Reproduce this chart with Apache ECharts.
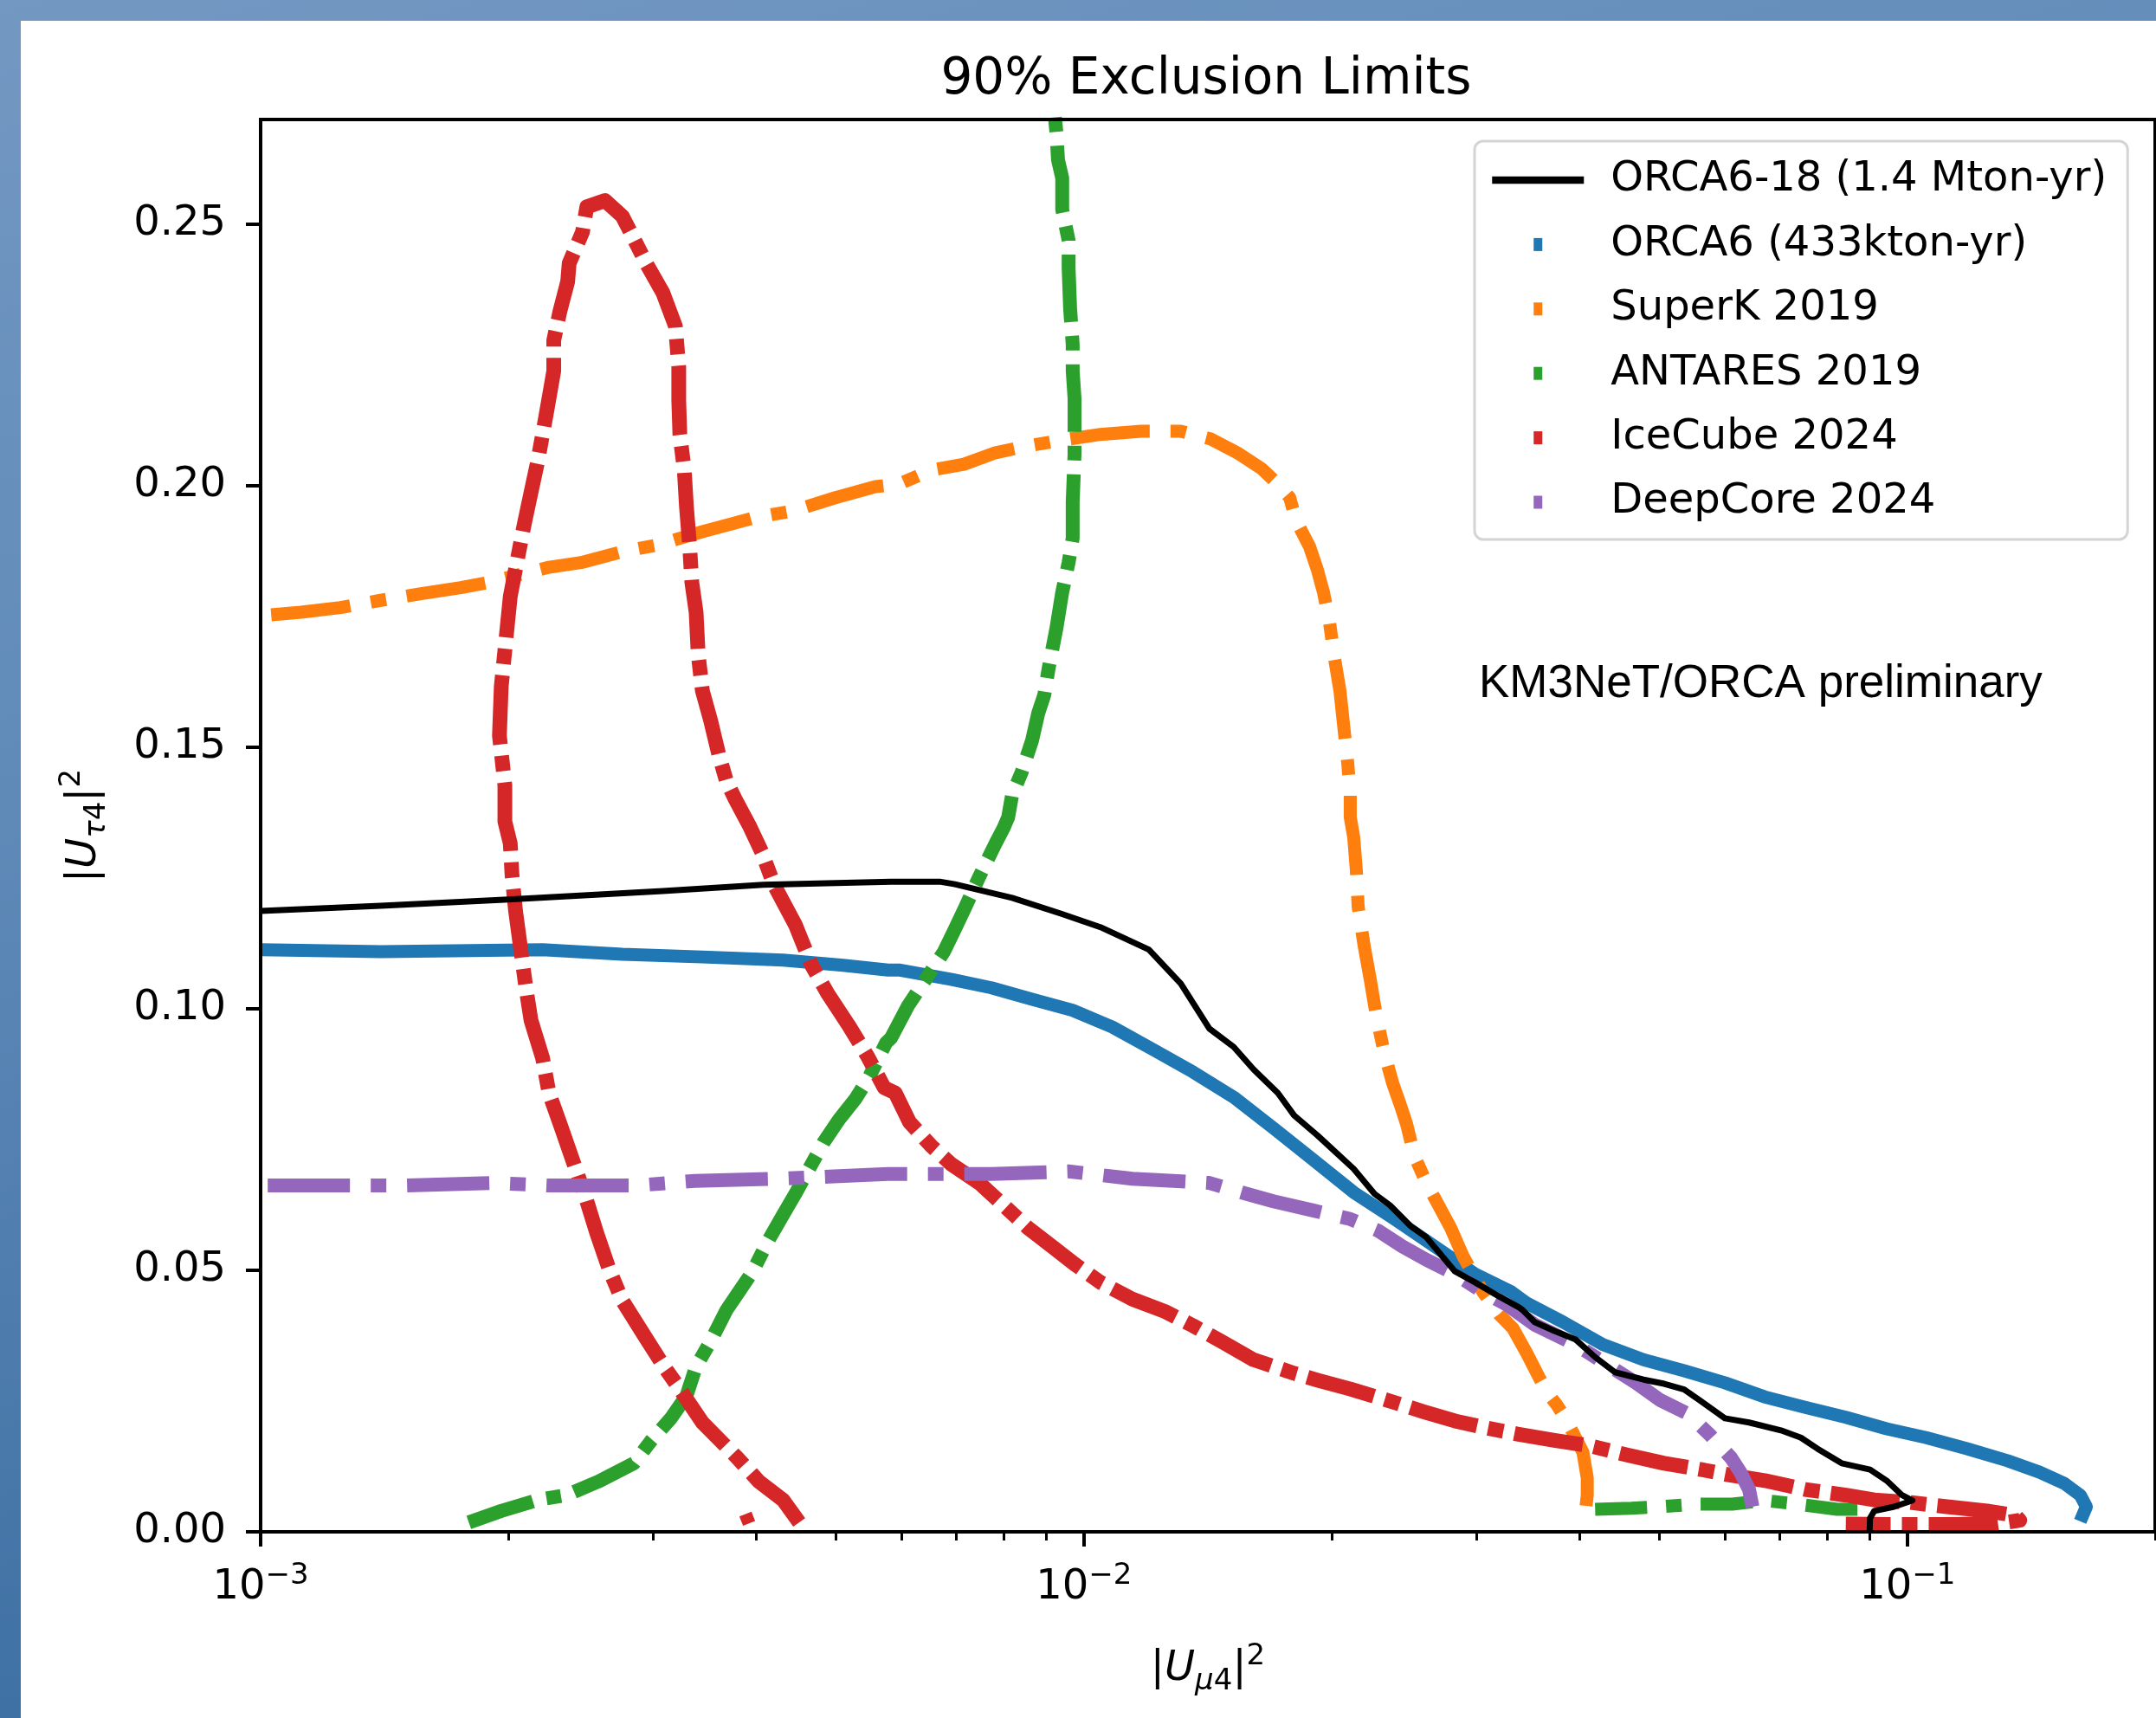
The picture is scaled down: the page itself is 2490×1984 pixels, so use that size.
<!DOCTYPE html>
<html>
<head>
<meta charset="utf-8">
<script src="https://cdn.jsdelivr.net/npm/echarts@6/dist/echarts.min.js"></script>
<style>
  html, body { margin: 0; padding: 0; }
  body {
    width: 2490px;
    height: 1984px;
    overflow: hidden;
    position: relative;
    background: linear-gradient(165deg, #7398c2 0%, #5f8ab8 35%, #2c6198 100%);
  }
  #chart {
    position: absolute;
    left: 24px;
    top: 24px;
    width: 2466px;
    height: 1960px;
    background: #fff;
  }
</style>
</head>
<body>
<div id="chart"></div>
<script>
// ---- data: [|U_mu4|^2, |U_tau4|^2] ----
const orca618 = [
  [0.001, 0.1187], [0.0014, 0.1197], [0.002, 0.1209], [0.00308, 0.1225], [0.00408, 0.1237],
  [0.00583, 0.1243], [0.00668, 0.1243], [0.00697, 0.1238], [0.00818, 0.1212], [0.00937, 0.1182],
  [0.01047, 0.1156], [0.01199, 0.1113], [0.01311, 0.1048], [0.0142, 0.0962], [0.0152, 0.0927],
  [0.01607, 0.0884], [0.0172, 0.0839], [0.018, 0.0796], [0.01921, 0.0758], [0.02126, 0.0694],
  [0.02254, 0.0646], [0.02354, 0.0624], [0.02495, 0.0584], [0.02606, 0.0563], [0.02822, 0.0498],
  [0.02985, 0.0477], [0.03193, 0.045], [0.03377, 0.0429], [0.0341, 0.0424], [0.03527, 0.0401],
  [0.03727, 0.0384], [0.03952, 0.0368], [0.04177, 0.0334], [0.04416, 0.0305], [0.04782, 0.0291],
  [0.05067, 0.0283], [0.05358, 0.0272], [0.05611, 0.025], [0.06004, 0.0217], [0.06424, 0.0209],
  [0.07024, 0.0194], [0.07426, 0.018], [0.07777, 0.0159], [0.08323, 0.0131], [0.09011, 0.0119],
  [0.09437, 0.0098], [0.09856, 0.007], [0.10146, 0.006], [0.0964, 0.0048], [0.0912, 0.004],
  [0.0901, 0.0026], [0.09, 0]
]

const orca6 = [
  [0.001, 0.1113], [0.0014, 0.1109], [0.0022, 0.1113], [0.00275, 0.1104], [0.00344, 0.1099],
  [0.00431, 0.1093], [0.0051, 0.1083], [0.00578, 0.1074], [0.00596, 0.1074], [0.00691, 0.1056],
  [0.00772, 0.104], [0.00865, 0.1018], [0.00969, 0.0997], [0.01083, 0.0965], [0.01213, 0.0922],
  [0.01357, 0.0879], [0.0152, 0.0831], [0.01698, 0.0772], [0.01903, 0.071], [0.02126, 0.0649],
  [0.02383, 0.0598], [0.02664, 0.0546], [0.02985, 0.0493], [0.03303, 0.0459], [0.03451, 0.0437],
  [0.03818, 0.0401], [0.04269, 0.0358], [0.04782, 0.0329], [0.05358, 0.0308], [0.06004, 0.0285],
  [0.06711, 0.0258], [0.07516, 0.0238], [0.08422, 0.0219], [0.09437, 0.0197], [0.10546, 0.018],
  [0.11817, 0.0159], [0.13236, 0.0136], [0.14477, 0.0114], [0.15495, 0.0093], [0.16224, 0.007],
  [0.165, 0.0048], [0.1622, 0.002]
]

const superK = [
  [0.00103, 0.1753], [0.00112, 0.1758], [0.00125, 0.1767], [0.00139, 0.178], [0.00156, 0.1793],
  [0.00175, 0.1805], [0.00189, 0.1815], [0.00224, 0.1844], [0.00245, 0.1853], [0.00275, 0.1874],
  [0.00304, 0.1887], [0.00344, 0.1912], [0.00399, 0.1939], [0.00444, 0.1952], [0.00499, 0.1977],
  [0.00558, 0.1998], [0.00596, 0.2003], [0.00653, 0.203], [0.00715, 0.2041], [0.00781, 0.2063],
  [0.00855, 0.2076], [0.00958, 0.2089], [0.01047, 0.2098], [0.01173, 0.2104], [0.01311, 0.2104],
  [0.01427, 0.2089], [0.01535, 0.2063], [0.01642, 0.2033], [0.0172, 0.2003], [0.01778, 0.1977],
  [0.01809, 0.1934], [0.0188, 0.1883], [0.01921, 0.1839], [0.01954, 0.1796], [0.01988, 0.1737],
  [0.02012, 0.1677], [0.02046, 0.1608], [0.02071, 0.153], [0.02091, 0.147], [0.02106, 0.1409],
  [0.02106, 0.1366], [0.02126, 0.1329], [0.02142, 0.1265], [0.02153, 0.1195], [0.02189, 0.1121],
  [0.02227, 0.1056], [0.02265, 0.0987], [0.02315, 0.0917], [0.02371, 0.0858], [0.02424, 0.0815],
  [0.02465, 0.078], [0.02519, 0.0719], [0.02606, 0.0667], [0.02696, 0.0624], [0.02789, 0.0581],
  [0.02885, 0.0528], [0.0305, 0.0459], [0.03193, 0.0416], [0.03319, 0.0389], [0.03451, 0.0341],
  [0.03569, 0.0296], [0.03648, 0.0268], [0.03755, 0.0242], [0.03837, 0.0219], [0.03903, 0.0197],
  [0.04037, 0.0152], [0.04086, 0.0103], [0.04086, 0.007], [0.04057, 0.0026]
]

const antares = [
  [0.00179, 0.0018], [0.00196, 0.004], [0.00217, 0.0061], [0.00235, 0.007], [0.00257, 0.0096],
  [0.00284, 0.0131], [0.00298, 0.0174], [0.00315, 0.0217], [0.00329, 0.026], [0.00338, 0.0316],
  [0.00352, 0.0364], [0.00368, 0.0424], [0.00381, 0.0459], [0.00396, 0.0498], [0.00413, 0.0555],
  [0.00431, 0.0606], [0.00446, 0.0646], [0.00483, 0.0745], [0.00504, 0.0788], [0.00528, 0.0828],
  [0.00549, 0.0871], [0.00575, 0.0935], [0.00583, 0.0944], [0.00611, 0.1005], [0.00676, 0.1109],
  [0.00697, 0.1152], [0.00718, 0.1195], [0.00746, 0.1252], [0.00781, 0.1316], [0.00799, 0.1346],
  [0.00809, 0.1366], [0.00818, 0.1409], [0.0084, 0.1452], [0.00865, 0.1513], [0.0088, 0.1565],
  [0.00895, 0.16], [0.00906, 0.1651], [0.00926, 0.1728], [0.00941, 0.1796], [0.00958, 0.1853],
  [0.00969, 0.19], [0.00969, 0.1969], [0.00974, 0.206], [0.00974, 0.2098], [0.00974, 0.2167],
  [0.00969, 0.2219], [0.00969, 0.227], [0.00962, 0.2339], [0.00958, 0.2416], [0.00958, 0.2469],
  [0.00941, 0.2528], [0.00941, 0.2588], [0.0093, 0.2623], [0.00926, 0.2674], [0.0092, 0.272]
]
const antaresLow = [
  [0.04177, 0.0043], [0.04623, 0.0045], [0.05008, 0.0048], [0.05541, 0.0053], [0.0613, 0.0053],
  [0.06711, 0.006], [0.07356, 0.0053], [0.08222, 0.0043], [0.0912, 0.0043]
]

const iceCube = [
  [0.00451, 0.0018], [0.00431, 0.0061], [0.00403, 0.0096], [0.00379, 0.0142], [0.00344, 0.0209],
  [0.00322, 0.0276], [0.00309, 0.0316], [0.00293, 0.0373], [0.00275, 0.0442], [0.00265, 0.0502],
  [0.00256, 0.0571], [0.00248, 0.0641], [0.0024, 0.0705], [0.00231, 0.078], [0.00224, 0.0839],
  [0.0022, 0.0906], [0.00213, 0.0978], [0.0021, 0.104], [0.00204, 0.1187], [0.00202, 0.1255],
  [0.00201, 0.1316], [0.00198, 0.1358], [0.00198, 0.1427], [0.00195, 0.1522], [0.00196, 0.1616],
  [0.00199, 0.172], [0.00201, 0.1788], [0.00205, 0.1858], [0.00209, 0.1926], [0.00213, 0.1987],
  [0.00217, 0.2046], [0.00222, 0.2132], [0.00227, 0.2219], [0.00227, 0.2278], [0.00231, 0.2334],
  [0.00236, 0.239], [0.00237, 0.2425], [0.00246, 0.2485], [0.00249, 0.2533], [0.00262, 0.2545],
  [0.00275, 0.2515], [0.00283, 0.2477], [0.00294, 0.2425], [0.00308, 0.2369], [0.00319, 0.2305],
  [0.00322, 0.2227], [0.00322, 0.2162], [0.00323, 0.2098], [0.00327, 0.203], [0.00329, 0.196],
  [0.00332, 0.1883], [0.00334, 0.1815], [0.00338, 0.1758], [0.0034, 0.1677], [0.00344, 0.1608],
  [0.00352, 0.1551], [0.0036, 0.1487], [0.00368, 0.1435], [0.00377, 0.1401], [0.00392, 0.1351],
  [0.00406, 0.13], [0.0042, 0.1238], [0.00446, 0.1161], [0.00467, 0.1083], [0.00488, 0.103],
  [0.00517, 0.097], [0.00546, 0.0909], [0.00572, 0.0849], [0.0059, 0.0839], [0.00614, 0.0783],
  [0.00653, 0.0737], [0.00691, 0.0702], [0.00746, 0.0667], [0.00799, 0.0624], [0.00855, 0.0581],
  [0.00914, 0.0546], [0.00974, 0.0512], [0.01047, 0.0477], [0.01145, 0.0445], [0.01255, 0.0421],
  [0.01357, 0.0394], [0.01469, 0.0364], [0.01607, 0.0329], [0.018, 0.0303], [0.01921, 0.029],
  [0.02107, 0.0273], [0.02332, 0.0252], [0.02581, 0.023], [0.02822, 0.0212], [0.03073, 0.0199],
  [0.03361, 0.0187], [0.03727, 0.0175], [0.04126, 0.0164], [0.04568, 0.0147], [0.05067, 0.0131],
  [0.05665, 0.0118], [0.06062, 0.0109], [0.06711, 0.0098], [0.07516, 0.0081], [0.08424, 0.007],
  [0.0912, 0.0061], [0.10097, 0.0056], [0.11176, 0.0048], [0.12492, 0.004], [0.13533, 0.0031],
  [0.137, 0.0022], [0.128, 0.0015], [0.11, 0.0014], [0.095, 0.0014], [0.0842, 0.0015]
]
const iceCubeDot = [[0.00388, 0.0034], [0.00392, 0.0016]]

const deepCore = [
  [0.00102, 0.0662], [0.00127, 0.0662], [0.00148, 0.0662], [0.00191, 0.0667], [0.00224, 0.0662],
  [0.00286, 0.0662], [0.00337, 0.0671], [0.00427, 0.0675], [0.00504, 0.068], [0.00578, 0.0684],
  [0.00772, 0.0684], [0.00958, 0.0689], [0.01145, 0.0675], [0.0142, 0.0667], [0.01553, 0.0649],
  [0.01698, 0.0632], [0.01903, 0.0614], [0.02106, 0.0598], [0.02275, 0.0576], [0.02435, 0.0546],
  [0.02606, 0.052], [0.02822, 0.0493], [0.0305, 0.0459], [0.03264, 0.0434], [0.03527, 0.0396],
  [0.03952, 0.0358], [0.04269, 0.0325], [0.04679, 0.0285], [0.05007, 0.0252], [0.05423, 0.0225],
  [0.05761, 0.0185], [0.06105, 0.0142], [0.0627, 0.0114], [0.06424, 0.0081], [0.06486, 0.0048]
]

const seriesNames = [
  'ORCA6-18 (1.4 Mton-yr)', 'ORCA6 (433kton-yr)', 'SuperK 2019',
  'ANTARES 2019', 'IceCube 2024', 'DeepCore 2024'
]
const xTicks = [0.001, 0.01, 0.1]
const xMinorTicks = [
  0.002, 0.003, 0.004, 0.005, 0.006, 0.007, 0.008, 0.009,
  0.02, 0.03, 0.04, 0.05, 0.06, 0.07, 0.08, 0.09, 0.2
]
const yTicks = [0, 0.05, 0.1, 0.15, 0.2, 0.25]

// ---- layout (page px, chart div sits at 24,24) ----
const OX = 24
const OY = 24
const FONT = 'DejaVu Sans'
const plot = { left: 301 - OX, top: 138 - OY, width: 2489 - 301, height: 1769 - 138 }

const markerIcon = 'path://M0,0 L10,0 L10,15 L0,15 Z'

// math-ish label pieces, like |U_{mu4}|^2
const mathRich = {
  n: { fontFamily: FONT, fontSize: 48, color: '#000' },
  i: { fontFamily: FONT, fontSize: 48, fontStyle: 'italic', color: '#000' },
  subi: { fontFamily: FONT, fontSize: 34, fontStyle: 'italic', color: '#000', padding: [29, 0, 0, 0] },
  sub: { fontFamily: FONT, fontSize: 34, color: '#000', padding: [29, 0, 0, 0] },
  sup: { fontFamily: FONT, fontSize: 34, color: '#000', padding: [0, 0, 28, 0] }
}

// scatter bands of the other experiments, drawn as thick broken lines
const band = (name, data, color, dash, width) => ({
  name,
  type: 'line',
  data,
  symbol: 'none',
  color,
  silent: true,
  lineStyle: { color, width, type: dash, cap: 'butt', join: 'round' },
  z: 2
})

const chartRef = document.getElementById('chart')
const chartInstance = echarts.init(chartRef)

const option = {
  animation: false,
  graphic: [
    {
      type: 'text',
      x: 1393 - OX,
      y: 93 - OY,
      style: {
        text: '90% Exclusion Limits',
        fontFamily: FONT,
        fontSize: 58,
        fill: '#000',
        align: 'center',
        verticalAlign: 'middle'
      }
    },
    {
      type: 'text',
      x: 1708 - OX,
      y: 790 - OY,
      z: 20,
      style: {
        text: 'KM3NeT/ORCA preliminary',
        fontFamily: 'Liberation Sans',
        fontSize: 53,
        fill: '#000',
        align: 'left',
        verticalAlign: 'middle'
      }
    }
  ],
  legend: {
    orient: 'vertical',
    left: 1703 - OX,
    top: 163 - OY,
    itemWidth: 106,
    itemHeight: 15,
    itemGap: 24.4,
    padding: [20, 24, 18, 16],
    backgroundColor: 'rgba(255, 255, 255, 0.8)',
    borderColor: '#d4d4d4',
    borderWidth: 3,
    borderRadius: 10,
    selectedMode: false,
    z: 20,
    textStyle: { fontFamily: FONT, fontSize: 48, color: '#000', lineHeight: 50, padding: [0, 0, 0, 26] },
    data: [
      { name: seriesNames[0], itemStyle: { opacity: 0 }, lineStyle: { width: 8.5, color: '#000' } },
      { name: seriesNames[1], icon: markerIcon },
      { name: seriesNames[2], icon: markerIcon },
      { name: seriesNames[3], icon: markerIcon },
      { name: seriesNames[4], icon: markerIcon },
      { name: seriesNames[5], icon: markerIcon }
    ]
  },
  grid: [
    {
      ...plot,
      show: true,
      borderColor: '#000',
      borderWidth: 4,
      backgroundColor: 'transparent',
      outerBoundsMode: 'none',
      z: 10
    },
    // twin grid only used for the minor ticks of the log axis
    { ...plot, show: false, outerBoundsMode: 'none' }
  ],
  xAxis: [
    {
      type: 'log',
      gridIndex: 0,
      min: 0.001,
      max: 0.2,
      z: 10,
      name: '{n||}{i|U}{subi|μ}{sub|4}{n||}{sup|2}',
      nameLocation: 'middle',
      nameGap: 127,
      nameTextStyle: { fontFamily: FONT, fontSize: 48, color: '#000', rich: mathRich },
      axisLine: { show: true, lineStyle: { color: '#000', width: 4 } },
      axisTick: { show: true, customValues: xTicks, length: 17, lineStyle: { color: '#000', width: 4 } },
      axisLabel: {
        customValues: xTicks,
        margin: 34,
        color: '#000',
        formatter: (value) => {
          const exp = Math.round(Math.log10(value))
          return '{b|10}{s|' + (exp < 0 ? '−' : '') + Math.abs(exp) + '}'
        },
        rich: {
          b: { fontFamily: FONT, fontSize: 48, color: '#000' },
          s: { fontFamily: FONT, fontSize: 34, color: '#000', padding: [0, 0, 28, 0] }
        }
      },
      splitLine: { show: false },
      minorTick: { show: false }
    },
    {
      type: 'log',
      gridIndex: 1,
      min: 0.001,
      max: 0.2,
      z: 10,
      axisLine: { show: false },
      axisLabel: { show: false },
      axisTick: { show: true, customValues: xMinorTicks, length: 10, lineStyle: { color: '#000', width: 3 } },
      splitLine: { show: false }
    }
  ],
  yAxis: [
    {
      type: 'value',
      gridIndex: 0,
      min: 0,
      max: 0.27,
      interval: 0.05,
      z: 10,
      name: '{n||}{i|U}{subi|τ}{sub|4}{n||}{sup|2}',
      nameLocation: 'middle',
      nameRotate: 90,
      nameGap: 172,
      nameTextStyle: { fontFamily: FONT, fontSize: 48, color: '#000', rich: mathRich },
      axisLine: { show: true, lineStyle: { color: '#000', width: 4 } },
      axisTick: { show: true, customValues: yTicks, length: 17, lineStyle: { color: '#000', width: 4 } },
      axisLabel: {
        customValues: yTicks,
        margin: 40,
        fontFamily: FONT,
        fontSize: 48,
        color: '#000',
        formatter: (value) => value.toFixed(2)
      },
      splitLine: { show: false }
    },
    { type: 'value', gridIndex: 1, min: 0, max: 0.27, show: false }
  ],
  series: [
    band(seriesNames[1], orca6, '#1f77b4', 'solid', 15),
    band(seriesNames[2], superK, '#ff7f0e', [92, 24, 18, 24], 15),
    band(seriesNames[3], antares, '#2ca02c', [78, 16, 17, 16], 16),
    band(seriesNames[3], antaresLow, '#2ca02c', [60, 22, 18, 22], 15),
    band(seriesNames[4], iceCube, '#d62728', [80, 13, 18, 13], 17),
    band(seriesNames[4], iceCubeDot, '#d62728', 'solid', 15),
    band(seriesNames[5], deepCore, '#9467bd', [95, 24, 18, 24], 16),
    {
      name: seriesNames[0],
      type: 'line',
      data: orca618,
      symbol: 'none',
      color: '#000',
      silent: true,
      lineStyle: { color: '#000', width: 7, join: 'round' },
      z: 5
    }
  ]
}

chartInstance.setOption(option)
</script>
</body>
</html>
